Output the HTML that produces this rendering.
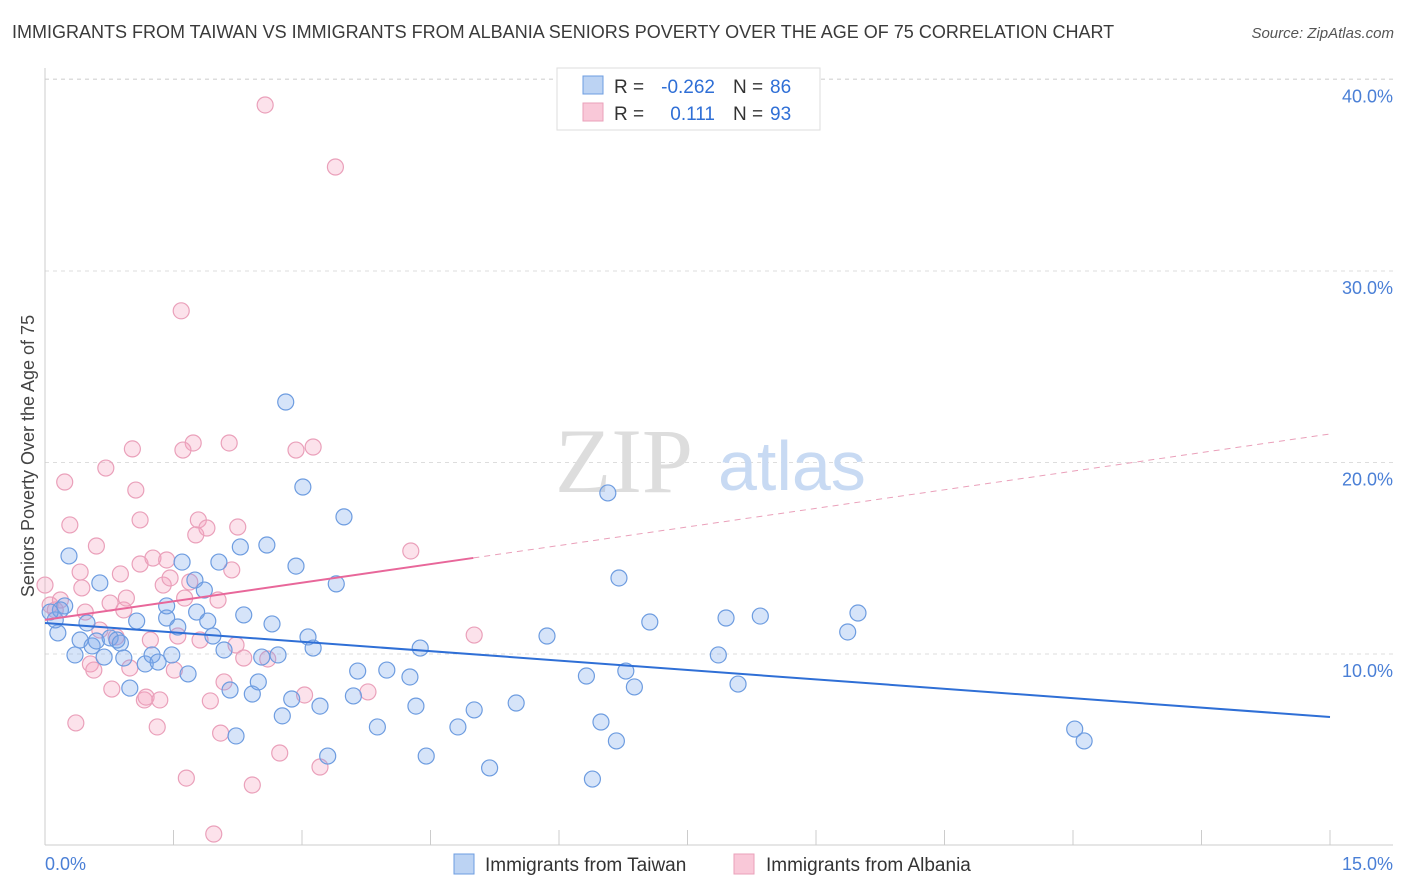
<!DOCTYPE html>
<html><head><meta charset="utf-8"><style>
body{margin:0;background:#fff;font-family:"Liberation Sans",sans-serif;}
#wrap{position:relative;width:1406px;height:892px;overflow:hidden;}
.title{position:absolute;left:12px;top:22px;font-size:18px;color:#3a3a3a;}
.source{position:absolute;right:12px;top:25px;font-size:15px;color:#555;font-style:italic;}
</style></head><body>
<div id="wrap">
<div class="title">IMMIGRANTS FROM TAIWAN VS IMMIGRANTS FROM ALBANIA SENIORS POVERTY OVER THE AGE OF 75 CORRELATION CHART</div>
<div class="source">Source: ZipAtlas.com</div>
<svg id="chart" width="1406" height="892" style="position:absolute;left:0;top:0"></svg>
</div>
<script>
const xTicks=[0,1.5,3,4.5,6,7.5,9,10.5,12,13.5,15];
const yTicks=[10,20,30,40];
const yTickLabels=["10.0%","20.0%","30.0%","40.0%"];
const taiwanX=[0.28,0.15,0.12,0.23,0.35,0.41,0.49,0.55,0.64,0.60,0.69,0.76,0.84,0.88,0.92,0.99,1.07,1.17,1.25,1.32,1.42,1.42,1.48,1.55,1.60,1.67,1.75,1.77,1.86,1.90,1.96,2.03,2.09,2.16,2.23,2.28,2.32,2.42,2.49,2.53,2.59,2.65,2.72,2.77,2.81,2.88,2.93,3.01,3.07,3.13,3.21,3.30,3.40,3.49,3.60,3.65,3.88,3.99,4.26,4.33,4.38,4.45,4.82,5.01,5.19,5.50,5.86,6.32,6.39,6.49,6.57,6.67,6.70,6.78,6.88,7.06,7.86,7.95,8.09,8.35,9.37,9.49,12.02,12.13,0.18,0.06];
const taiwanY=[15.12,11.10,11.78,12.51,9.95,10.73,11.62,10.42,13.71,10.68,9.84,10.84,10.73,10.57,9.79,8.22,11.72,9.48,9.95,9.58,11.88,12.51,9.95,11.41,14.80,8.96,13.86,12.19,13.34,11.72,10.94,14.80,10.21,8.12,5.72,15.59,12.04,7.91,8.54,9.84,15.69,11.57,9.95,6.77,23.16,7.65,14.59,18.72,10.89,10.31,7.28,4.67,13.66,17.16,7.81,9.11,6.19,9.16,8.80,7.28,10.31,4.67,6.19,7.08,4.05,7.44,10.94,8.85,3.47,6.45,18.41,5.46,13.97,9.11,8.28,11.67,9.95,11.88,8.43,11.98,11.15,12.14,6.08,5.46,12.30,12.19];
const albaniaX=[0.00,0.06,0.12,0.18,0.23,0.29,0.36,0.41,0.43,0.47,0.53,0.57,0.60,0.64,0.71,0.76,0.78,0.83,0.88,0.92,0.95,0.99,1.02,1.06,1.11,1.16,1.18,1.23,1.26,1.31,1.34,1.38,1.42,1.46,1.51,1.55,1.59,1.63,1.65,1.69,1.73,1.76,1.79,1.81,1.89,1.93,1.97,2.02,2.05,2.09,2.15,2.18,2.23,2.25,2.32,2.42,2.57,2.60,2.74,2.93,3.03,3.13,3.21,3.39,3.77,4.27,5.01,1.61,1.11];
const albaniaY=[13.60,12.56,12.30,12.82,18.98,16.74,6.40,14.28,13.45,12.19,9.48,9.16,15.64,11.25,19.71,12.66,8.17,10.89,14.18,12.30,12.92,9.27,20.71,18.56,14.70,7.60,7.75,10.73,15.01,6.19,7.60,13.60,14.91,13.97,9.16,10.94,27.92,12.92,3.52,13.76,21.02,16.22,17.00,10.73,16.58,7.55,0.60,12.82,5.87,8.54,21.02,14.39,10.47,16.63,9.79,3.16,38.67,9.74,4.83,20.65,7.86,20.81,4.10,35.43,8.02,15.38,10.99,20.65,17.00];
const taiwanTrend=[11.62,6.71];
const albaniaTrend=[11.78,21.49];
const albaniaSolidEnd=5.0;

const NS="http://www.w3.org/2000/svg";
const svg=document.getElementById('chart');
const X0=45,X1=1330,Y0=845.5,PXPER=19.15;
const sx=v=>X0+v/15*(X1-X0);
const sy=v=>Y0-v*PXPER;
function mk(tag,attrs,parent){const e=document.createElementNS(NS,tag);for(const k in attrs)e.setAttribute(k,attrs[k]);(parent||svg).appendChild(e);return e;}

// gridlines
yTicks.forEach((t,i)=>{
  const g=mk('line',{x1:X0,x2:1393,y1:sy(t),y2:sy(t),stroke:'#ddd','stroke-dasharray':'4,4'});
  
  
  const tx=mk('text',{x:1393,y:sy(t)+23,'text-anchor':'end','font-size':18,fill:'#4a7fd6'});
  tx.textContent=yTickLabels[i];
  
  
});
const topG=mk('line',{x1:X0,x2:1393,y1:79,y2:79,stroke:'#ddd','stroke-dasharray':'4,4'});
// axes
const ya=mk('line',{x1:X0,x2:X0,y1:68,y2:845,stroke:'#ccc'});


const xa=mk('line',{x1:X0,x2:1393,y1:845,y2:845,stroke:'#ccc'});


xTicks.forEach(t=>{
  const l=mk('line',{x1:sx(t),x2:sx(t),y1:830,y2:845,stroke:'#ccc'});
  
  
});
const xl0=mk('text',{x:45,y:870,'font-size':18,fill:'#4a7fd6'});xl0.textContent='0.0%';


const xl1=mk('text',{x:1393,y:870,'text-anchor':'end','font-size':18,fill:'#4a7fd6'});xl1.textContent='15.0%';


const yt=mk('text',{x:34,y:456,'text-anchor':'middle','font-size':18,fill:'#444',transform:'rotate(-90 34 456)'});
yt.textContent='Seniors Poverty Over the Age of 75';


// watermark
const wm=mk('text',{x:555,y:492,'font-size':92,fill:'#ddd','font-family':'Liberation Serif'});wm.textContent='ZIP';


const wm2=mk('text',{x:718,y:490,'font-size':70,fill:'#c8daf3'});wm2.textContent='atlas';



// points
albaniaX.forEach((x,i)=>{
  const c=mk('circle',{cx:sx(x),cy:sy(albaniaY[i]),r:8,fill:'rgba(244,160,190,0.3)',stroke:'#eaa0ba','stroke-width':1.2});
  
  
});
taiwanX.forEach((x,i)=>{
  const c=mk('circle',{cx:sx(x),cy:sy(taiwanY[i]),r:8,fill:'rgba(120,165,235,0.3)',stroke:'#6d9ce0','stroke-width':1.2});
  
  
});
// trends
const tl=mk('line',{x1:sx(0),y1:sy(taiwanTrend[0]),x2:sx(15),y2:sy(taiwanTrend[1]),stroke:'#2f6fd6','stroke-width':2});


const aAt=x=>albaniaTrend[0]+(albaniaTrend[1]-albaniaTrend[0])*x/15;
const al=mk('line',{x1:sx(0),y1:sy(aAt(0)),x2:sx(albaniaSolidEnd),y2:sy(aAt(albaniaSolidEnd)),stroke:'#e8679a','stroke-width':2});


const ad=mk('line',{x1:sx(albaniaSolidEnd),y1:sy(aAt(albaniaSolidEnd)),x2:sx(15),y2:sy(aAt(15)),stroke:'#eaa0ba','stroke-width':1,'stroke-dasharray':'6,5'});



// top legend
const lg=mk('g',{});


mk('rect',{x:557,y:68,width:263,height:62,fill:'#fff',stroke:'#ddd'},lg);
mk('rect',{x:583,y:76,width:20,height:18,fill:'#bcd3f3',stroke:'#6d9ce0'},lg);
mk('rect',{x:583,y:103,width:20,height:18,fill:'#f9c8d8',stroke:'#eaa0ba'},lg);
[[93,'-0.262','86'],[120,'0.111','93']].forEach(r=>{
  const a=mk('text',{x:614,y:r[0],'font-size':19,fill:'#333'},lg);a.textContent='R =';
  const b=mk('text',{x:715,y:r[0],'text-anchor':'end','font-size':19,fill:'#2f6fd6'},lg);b.textContent=r[1];
  const c=mk('text',{x:733,y:r[0],'font-size':19,fill:'#333'},lg);c.textContent='N =';
  const d=mk('text',{x:770,y:r[0],'font-size':19,fill:'#2f6fd6'},lg);d.textContent=r[2];
});
// bottom legend
const bl=mk('g',{});


mk('rect',{x:454,y:854,width:20,height:20,fill:'#bcd3f3',stroke:'#6d9ce0'},bl);
const b1=mk('text',{x:485,y:871,'font-size':19,fill:'#333'},bl);b1.textContent='Immigrants from Taiwan';


mk('rect',{x:734,y:854,width:20,height:20,fill:'#f9c8d8',stroke:'#eaa0ba'},bl);
const b2=mk('text',{x:766,y:871,'font-size':19,fill:'#333'},bl);b2.textContent='Immigrants from Albania';


</script>
</body></html>
